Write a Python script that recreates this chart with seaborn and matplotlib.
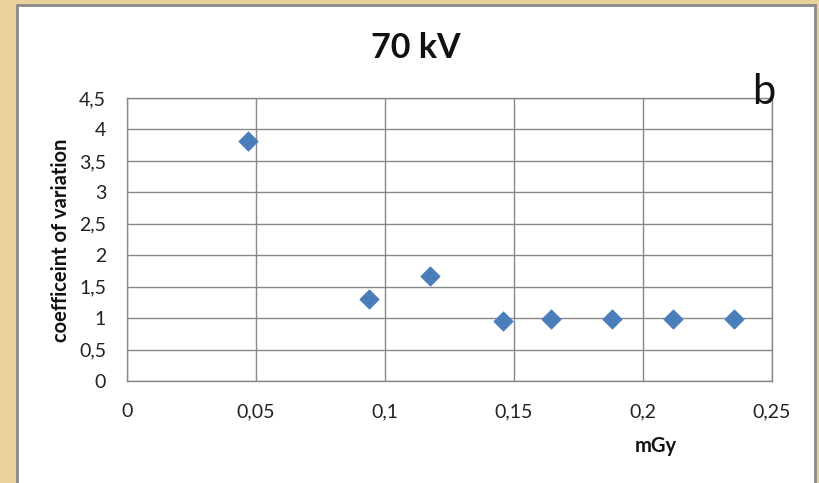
import matplotlib
matplotlib.use("Agg")
import matplotlib.pyplot as plt
import matplotlib.patches as mpatches
from matplotlib.ticker import FuncFormatter, MultipleLocator
import seaborn as sns
import pandas as pd

# Dose (mGy) and coefficient of variation at 70 kV
dose_mgy = [0.047, 0.0938, 0.1173, 0.1457, 0.1645, 0.1881, 0.2116, 0.2353]
coef_var = [3.82, 1.30, 1.67, 0.95, 0.98, 0.98, 0.98, 0.98]

title_text = "70 kV"
panel_letter = "b"
x_label = "mGy"
y_label = "coefficeint of variation"

df = pd.DataFrame({"dose": dose_mgy, "cv": coef_var})

sns.set_theme(style="white")
plt.rcParams["font.family"] = ["Lato", "DejaVu Sans"]

W, H = 819, 483
fig = plt.figure(figsize=(W / 100, H / 100), dpi=100)
fig.patch.set_facecolor("#E9D19C")

# white chart panel with grey frame, drawn behind everything
panel = mpatches.Rectangle((17 / W, -0.05), (815 - 17) / W, 1 - 5 / H + 0.05,
                           transform=fig.transFigure, facecolor="white",
                           edgecolor="#8A8A8A", linewidth=2.0, zorder=-10)
fig.patches.append(panel)

ax = fig.add_axes([127 / W, 1 - 381 / H, (772 - 127) / W, (381 - 98) / H])
ax.set_facecolor("white")

sns.scatterplot(data=df, x="dose", y="cv", marker="D", s=98, color="#4A7EBB",
                edgecolor="#4A7EBB", linewidth=0.5, ax=ax, zorder=3)

ax.set_xlim(0, 0.25)
ax.set_ylim(0, 4.5)
ax.xaxis.set_major_locator(MultipleLocator(0.05))
ax.yaxis.set_major_locator(MultipleLocator(0.5))

def comma_fmt(v, pos):
    s = f"{v:.2f}".rstrip("0").rstrip(".")
    return s.replace(".", ",")

ax.xaxis.set_major_formatter(FuncFormatter(comma_fmt))
ax.yaxis.set_major_formatter(FuncFormatter(comma_fmt))

ax.grid(True, color="#888888", linewidth=1.0)
ax.set_axisbelow(True)
for sp in ax.spines.values():
    sp.set_color("#888888")
    sp.set_linewidth(1.0)

ax.tick_params(axis="both", length=0, labelsize=14, colors="#222222")
ax.tick_params(axis="y", pad=15)
ax.tick_params(axis="x", pad=16)

# axis labels, centred on given pixel positions
ax.set_xlabel(x_label, fontsize=14.5, fontweight="bold", color="#111111")
ax.xaxis.label.set(va="center", ha="center")
ax.xaxis.set_label_coords((656 - 127) / 645, (381 - 446) / 283)
ax.set_ylabel(y_label, fontsize=14.5, fontweight="bold", color="#111111")
ax.yaxis.label.set(va="center", ha="center", rotation_mode="anchor")
ax.yaxis.set_label_coords((61 - 127) / 645, (381 - 240) / 283)

fig.text(416 / W, 1 - 57.5 / H, title_text, ha="center", va="baseline",
         fontsize=24.5, fontweight="bold", color="#111111")
fig.text(764 / W, 1 - 104 / H, panel_letter, ha="center", va="baseline",
         fontsize=30, color="#111111")

fig.savefig("out.png", dpi=100, facecolor=fig.get_facecolor())
